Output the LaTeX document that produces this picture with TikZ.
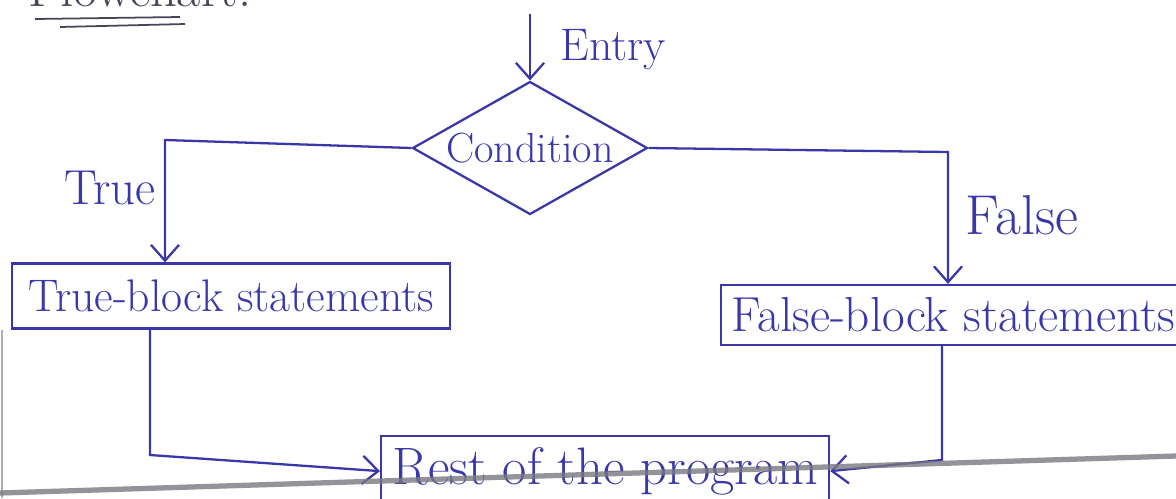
\documentclass[tikz,border=0pt]{standalone}
\usetikzlibrary{shapes.geometric,arrows.meta}
\definecolor{ink}{RGB}{58,56,168}
\definecolor{pencil}{RGB}{70,70,90}
\definecolor{edge}{RGB}{120,120,128}
\newcommand{\handsize}[1]{\fontsize{#1}{#1}\selectfont}
\tikzset{
  hand/.style={text=ink, font=\handsize{26}},
  blockbox/.style={draw=ink, line width=1.3pt, hand, inner sep=0pt},
  link/.style={draw=ink, line width=1.3pt},
  arr/.style={link, -{Straight Barb[length=9pt,width=16pt]}},
  lbl/.style={hand, inner sep=0pt},
}
\begin{document}
\begin{tikzpicture}[x=0.02cm,y=-0.02cm]
\useasboundingbox (0,0) rectangle (1176,498);
\clip (0,0) rectangle (1176,498);
\fill[white] (0,0) rectangle (1176,498);

% heading at the top edge of the sheet
\node[text=pencil, font=\handsize{30}, anchor=base west, inner sep=0pt] (head) at (28,6) {Flowchart:};
\draw[pencil, line width=1pt] (35,19) -- (180,17);
\draw[pencil, line width=1pt] (60,27) -- (185,24);

% decision
\node[draw=ink, line width=1.3pt, diamond, shape aspect=1.77, inner sep=0pt,
      minimum width=4.7cm, minimum height=2.66cm, hand, font=\handsize{24}] (cond) at (530,148) {Condition};
\coordinate (entry) at (cond.north |- 0,14);
\draw[arr] (entry) -- (cond.north);
\node[lbl, anchor=west] (entrylbl) at (560,50) {Entry};

% the two branches
\node[blockbox, minimum width=8.76cm, minimum height=1.3cm] (tb) at (231,296) {True-block statements};
\node[blockbox, font=\handsize{28}, minimum width=9.3cm, minimum height=1.2cm, anchor=west] (fb) at (720,315) {False-block statements};

\coordinate (tl) at (165,140);
\draw[arr] (cond.west) -- (tl) -- (tl |- tb.north);
\node[lbl, font=\handsize{28}] (truelbl) at (110,188) {True};

\coordinate (tr) at (948,152);
\draw[arr] (cond.east) -- (tr) -- (tr |- fb.north);
\node[lbl, font=\handsize{32}] (falselbl) at (1022,215) {False};

% join
\node[blockbox, font=\handsize{30}, minimum width=8.96cm, minimum height=1.4cm, anchor=north west] (rest) at (380,435) {Rest of the program};

\coordinate (bl) at (150,455);
\draw[arr] (bl |- tb.south) -- (bl) -- (rest.west);
\coordinate (br) at (942,460);
\draw[arr] (br |- fb.south) -- (br) -- (rest.east);

% edges of the sheet
\draw[edge, line width=3pt, opacity=0.8] (0,493) -- (1176,456);
\draw[edge, line width=1.5pt, opacity=0.6] (2,330) -- (2,498);
\end{tikzpicture}
\end{document}
